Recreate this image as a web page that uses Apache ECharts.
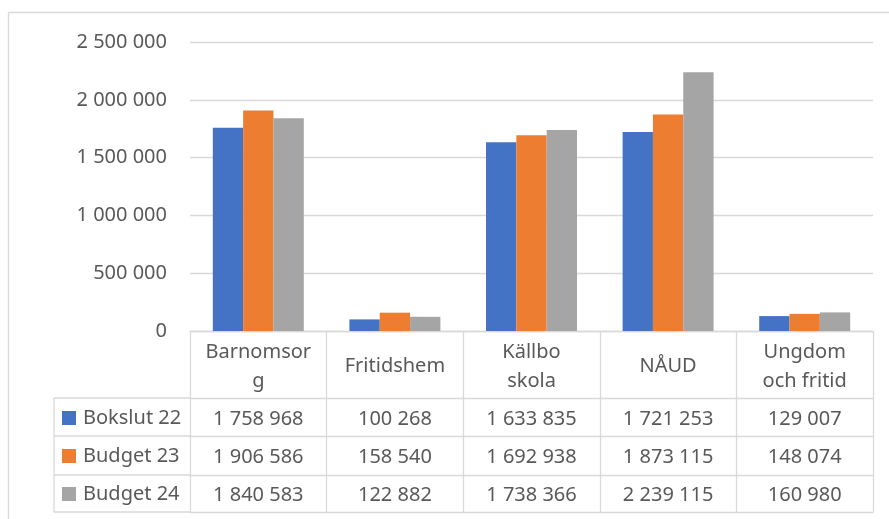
<!DOCTYPE html>
<html><head><meta charset="utf-8">
<script src="https://cdn.jsdelivr.net/npm/echarts@6/dist/echarts.min.js"></script>
<style>html,body{margin:0;padding:0;background:#fff}#c{width:889px;height:519px}</style>
</head><body><div id="c"></div>
<script>
const categories = ['Barnomsorg', 'Fritidshem', 'Källbo skola', 'NÅUD', 'Ungdom och fritid'];
const categoryLabels = ['Barnomsor\ng', 'Fritidshem', 'Källbo\nskola', 'NÅUD', 'Ungdom\noch fritid'];
const seriesNames = ['Bokslut 22', 'Budget 23', 'Budget 24'];
const bokslut22 = [1758968, 100268, 1633835, 1721253, 129007];
const budget23 = [1906586, 158540, 1692938, 1873115, 148074];
const budget24 = [1840583, 122882, 1738366, 2239115, 160980];
const yTicks = [0, 500000, 1000000, 1500000, 2000000, 2500000];

const seriesValues = [bokslut22, budget23, budget24];
const colors = ['#4472C4', '#ED7D31', '#A5A5A5'];
const FONT = 'Noto Sans';
const TXT = '#595959';
const LINE = '#d9d9d9';
const FS = 20;

const GL = 190, GT = 42, GR = 16, GB = 188;
const W = 889, H = 519;
const axisY = H - GB;             // y of category axis line
const headerH = 67;
const rowOffsets = [67, 105, 144, 181]; // table horizontal lines below axis
const tableLeft = 54;

function fmt(v) { return String(v).replace(/\B(?=(\d{3})+(?!\d))/g, ' '); }

const xAxes = [{
  type: 'category', gridIndex: 0, position: 'bottom', data: categories,
  axisLine: { show: true, lineStyle: { color: LINE, width: 1.3 } },
  axisTick: { show: true, length: headerH, lineStyle: { color: LINE, width: 1.3 } },
  axisLabel: {
    interval: 0, margin: headerH / 2 + 2, verticalAlign: 'middle', lineHeight: 29,
    fontFamily: FONT, fontSize: FS, color: TXT,
    formatter: (v, i) => categoryLabels[i]
  }
}];
for (let k = 0; k < 3; k++) {
  const h = rowOffsets[k + 1] - rowOffsets[k];
  xAxes.push({
    type: 'category', gridIndex: 0, position: 'bottom', offset: rowOffsets[k],
    data: seriesValues[k].map(fmt),
    axisLine: { show: true, lineStyle: { color: LINE, width: 1.3 } },
    axisTick: { show: true, length: h, lineStyle: { color: LINE, width: 1.3 } },
    axisLabel: { interval: 0, margin: h / 2 + 2, verticalAlign: 'middle', fontFamily: FONT, fontSize: FS, color: TXT }
  });
}
xAxes.push({
  type: 'category', gridIndex: 0, position: 'bottom', offset: rowOffsets[3], data: categories,
  axisLine: { show: true, lineStyle: { color: LINE, width: 1.3 } },
  axisTick: { show: false }, axisLabel: { show: false }
});

const graphic = [];
const gl = (x1, y1, x2, y2) => graphic.push({ type: 'line', silent: true, z: 100,
  shape: { x1, y1, x2, y2 }, style: { stroke: LINE, lineWidth: 1.3 } });
// outer chart frame (top & left visible)
gl(8.5, 12.5, W, 12.5);
gl(8.5, 12.5, 8.5, H);
// legend column of the data table
rowOffsets.forEach(o => gl(tableLeft, axisY + o, GL, axisY + o));
gl(tableLeft, axisY + rowOffsets[0], tableLeft, axisY + rowOffsets[3]);

const rowCenter0 = axisY + (rowOffsets[0] + rowOffsets[1]) / 2;
const rowStep = (rowOffsets[3] - rowOffsets[0]) / 3;

const option = {
  animation: false,
  backgroundColor: '#fff',
  textStyle: { fontFamily: FONT },
  grid: { left: GL, top: GT, right: GR, bottom: GB, containLabel: false, outerBoundsMode: 'none' },
  legend: {
    data: seriesNames, orient: 'vertical', left: 62, top: rowCenter0 - 9, padding: 0,
    itemGap: rowStep - 20, icon: 'rect', itemWidth: 14, itemHeight: 14,
    textStyle: { fontFamily: FONT, fontSize: FS, color: TXT, lineHeight: 20, padding: [0, 0, 0, 2] },
    selectedMode: false
  },
  xAxis: xAxes,
  yAxis: {
    type: 'value', min: yTicks[0], max: yTicks[yTicks.length - 1], interval: yTicks[1] - yTicks[0],
    axisLine: { show: false }, axisTick: { show: false },
    splitLine: { lineStyle: { color: LINE, width: 1.3 } },
    axisLabel: { margin: 23, fontFamily: FONT, fontSize: FS, color: TXT, formatter: v => fmt(v) }
  },
  graphic: graphic,
  series: seriesNames.map((n, k) => ({
    name: n, type: 'bar', xAxisIndex: 0, yAxisIndex: 0, data: seriesValues[k],
    barGap: '0%', barCategoryGap: '33.4%',
    itemStyle: { color: colors[k] }
  }))
};

const chart = echarts.init(document.getElementById('c'), null, { renderer: 'canvas' });
chart.setOption(option);
</script>
</body></html>
